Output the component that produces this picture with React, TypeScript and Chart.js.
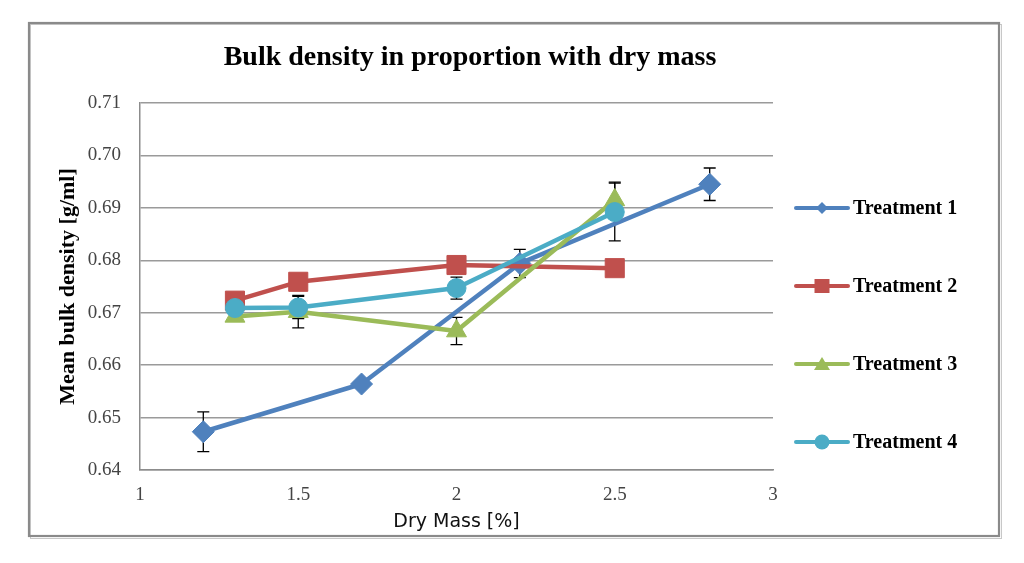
import { useEffect, useRef } from "react"
import { Chart, registerables } from "chart.js"
import type { Plugin } from "chart.js"

Chart.register(...registerables)

// Treatment series: dry mass [%], mean bulk density [g/ml], error bar half-height
const dryMass1 = [1.2, 1.7, 2.2, 2.8]
const density1 = [0.6473, 0.6564, 0.6794, 0.6945]
const error1 = [0.0038, 0.0005, 0.0027, 0.0031]

const dryMass2 = [1.3, 1.5, 2, 2.5]
const density2 = [0.6723, 0.6759, 0.6791, 0.6785]
const error2 = [0.0008, 0.001, 0.0008, 0.0006]

const dryMass3 = [1.3, 1.5, 2, 2.5]
const density3 = [0.6693, 0.6702, 0.6665, 0.6915]
const error3 = [0.0006, 0.0031, 0.0026, 0.0034]

const dryMass4 = [1.3, 1.5, 2, 2.5]
const density4 = [0.6709, 0.671, 0.6747, 0.6892]
const error4 = [0.0006, 0.0021, 0.0021, 0.0055]

const seriesNames = ["Treatment 1", "Treatment 2", "Treatment 3", "Treatment 4"]
const seriesColors = ["#4F81BD", "#C0504D", "#9BBB59", "#4BACC6"]
const pointStyles = ["rectRot", "rect", "triangle", "circle"] as const
const pointRadii = [11, 13.5, 11.5, 9.5]

const xTicks = [1, 1.5, 2, 2.5, 3]
const yTicks = [0.64, 0.65, 0.66, 0.67, 0.68, 0.69, 0.7, 0.71]

const xs = [dryMass1, dryMass2, dryMass3, dryMass4]
const ys = [density1, density2, density3, density4]
const errs = [error1, error2, error3, error4]

const SERIF = "'Liberation Serif', 'Times New Roman', serif"

// outer frame + chart title
const framePlugin: Plugin<"line"> = {
  id: "frame",
  beforeDraw(chart) {
    const { ctx } = chart
    ctx.save()
    ctx.fillStyle = "#ffffff"
    ctx.fillRect(0, 0, chart.width, chart.height)
    ctx.strokeStyle = "#c8c8c8"
    ctx.lineWidth = 1
    ctx.strokeRect(30.5, 24.5, 971, 514)
    ctx.strokeStyle = "#8a8a8a"
    ctx.lineWidth = 2.2
    ctx.strokeRect(29, 23, 970, 513)
    ctx.fillStyle = "#000000"
    ctx.font = `bold 28px ${SERIF}`
    ctx.textAlign = "center"
    ctx.textBaseline = "middle"
    ctx.fillText("Bulk density in proportion with dry mass", 470, 58)
    ctx.restore()
  },
}

// vertical error bars, drawn under the lines and markers
const errorBarPlugin: Plugin<"line"> = {
  id: "errorBars",
  beforeDatasetsDraw(chart) {
    const { ctx } = chart
    const xScale = chart.scales.x
    const yScale = chart.scales.y
    ctx.save()
    ctx.strokeStyle = "#000000"
    ctx.lineWidth = 1.3
    xs.forEach((list, s) => {
      list.forEach((xv, i) => {
        const px = xScale.getPixelForValue(xv)
        const top = yScale.getPixelForValue(ys[s][i] + errs[s][i])
        const bottom = yScale.getPixelForValue(ys[s][i] - errs[s][i])
        ctx.beginPath()
        ctx.moveTo(px, top)
        ctx.lineTo(px, bottom)
        ctx.moveTo(px - 6, top)
        ctx.lineTo(px + 6, top)
        ctx.moveTo(px - 6, bottom)
        ctx.lineTo(px + 6, bottom)
        ctx.stroke()
      })
    })
    ctx.restore()
  },
}

function drawMarker(ctx: CanvasRenderingContext2D, style: string, x: number, y: number) {
  ctx.beginPath()
  if (style === "rectRot") {
    ctx.moveTo(x, y - 6)
    ctx.lineTo(x + 6, y)
    ctx.lineTo(x, y + 6)
    ctx.lineTo(x - 6, y)
    ctx.closePath()
  } else if (style === "rect") {
    ctx.rect(x - 7.5, y - 7, 15, 14)
  } else if (style === "triangle") {
    ctx.moveTo(x, y - 7)
    ctx.lineTo(x + 8, y + 6)
    ctx.lineTo(x - 8, y + 6)
    ctx.closePath()
  } else {
    ctx.arc(x, y, 7.5, 0, Math.PI * 2)
  }
  ctx.fill()
}

// legend on the right: line with marker, then the name
const legendPlugin: Plugin<"line"> = {
  id: "sideLegend",
  afterDraw(chart) {
    const { ctx } = chart
    ctx.save()
    ctx.font = `bold 20px ${SERIF}`
    ctx.textBaseline = "middle"
    ctx.textAlign = "left"
    chart.data.datasets.forEach((ds, i) => {
      const y = 208 + i * 78
      const color = seriesColors[i]
      ctx.strokeStyle = color
      ctx.fillStyle = color
      ctx.lineWidth = 4
      ctx.lineCap = "round"
      ctx.beginPath()
      ctx.moveTo(796, y)
      ctx.lineTo(848, y)
      ctx.stroke()
      drawMarker(ctx, pointStyles[i], 822, y)
      ctx.fillStyle = "#000000"
      ctx.fillText(String(ds.label), 853, y + 1)
    })
    ctx.restore()
  },
}

export default function App() {
  const chartRef = useRef<HTMLCanvasElement>(null)
  const chartInstance = useRef<Chart<"line", { x: number; y: number }[]> | null>(null)

  useEffect(() => {
    if (!chartRef.current) return
    if (chartInstance.current) {
      chartInstance.current.destroy()
    }
    const ctx = chartRef.current.getContext("2d")
    if (!ctx) return

    const datasets = seriesNames.map((name, s) => ({
      label: name,
      data: xs[s].map((xv, i) => ({ x: xv, y: ys[s][i] })),
      borderColor: seriesColors[s],
      backgroundColor: seriesColors[s],
      borderWidth: 4.5,
      borderCapStyle: "round" as const,
      borderJoinStyle: "round" as const,
      tension: 0,
      pointStyle: pointStyles[s],
      pointRadius: pointRadii[s],
      pointBorderWidth: 1,
      pointBorderColor: seriesColors[s],
      pointBackgroundColor: seriesColors[s],
      order: seriesNames.length - s,
    }))

    chartInstance.current = new Chart(ctx, {
      type: "line",
      data: { datasets },
      plugins: [framePlugin, errorBarPlugin, legendPlugin],
      options: {
        responsive: true,
        maintainAspectRatio: false,
        animation: false,
        layout: {
          padding: { left: 55, right: 251, top: 103, bottom: 0 },
        },
        plugins: {
          legend: { display: false },
          title: { display: false },
          tooltip: { enabled: false },
        },
        scales: {
          x: {
            type: "linear",
            min: 1,
            max: 3,
            afterBuildTicks: (scale) => {
              scale.ticks = xTicks.map((v) => ({ value: v }))
            },
            afterFit: (scale) => {
              scale.height = 93
            },
            grid: { display: false, drawTicks: false },
            border: { display: true, color: "#8c8c8c", width: 1.5 },
            ticks: {
              padding: 14,
              color: "#444444",
              font: { family: SERIF, size: 19 },
              callback: (v) => String(v),
            },
            title: {
              display: true,
              text: "Dry Mass [%]",
              color: "#111111",
              font: { family: "'DejaVu Sans', Verdana, sans-serif", size: 19 },
              padding: { top: 0, bottom: 30 },
            },
          },
          y: {
            type: "linear",
            min: 0.64,
            max: 0.71,
            afterBuildTicks: (scale) => {
              scale.ticks = yTicks.map((v) => ({ value: v }))
            },
            afterFit: (scale) => {
              scale.width = 85
            },
            grid: { color: "#9a9a9a", lineWidth: 1.5, drawTicks: false },
            border: { display: true, color: "#8c8c8c", width: 1.5 },
            ticks: {
              padding: 19,
              color: "#444444",
              font: { family: SERIF, size: 19 },
              callback: (v) => Number(v).toFixed(2),
            },
            title: {
              display: true,
              text: "Mean bulk density [g/ml]",
              color: "#000000",
              font: { family: SERIF, size: 22, weight: "bold" },
              padding: 0,
            },
          },
        },
      },
    })

    return () => {
      if (chartInstance.current) {
        chartInstance.current.destroy()
        chartInstance.current = null
      }
    }
  }, [])

  return (
    <div style={{ position: "absolute", left: 0, top: 0, width: 1024, height: 563, background: "#fff" }}>
      <canvas ref={chartRef} />
    </div>
  )
}
